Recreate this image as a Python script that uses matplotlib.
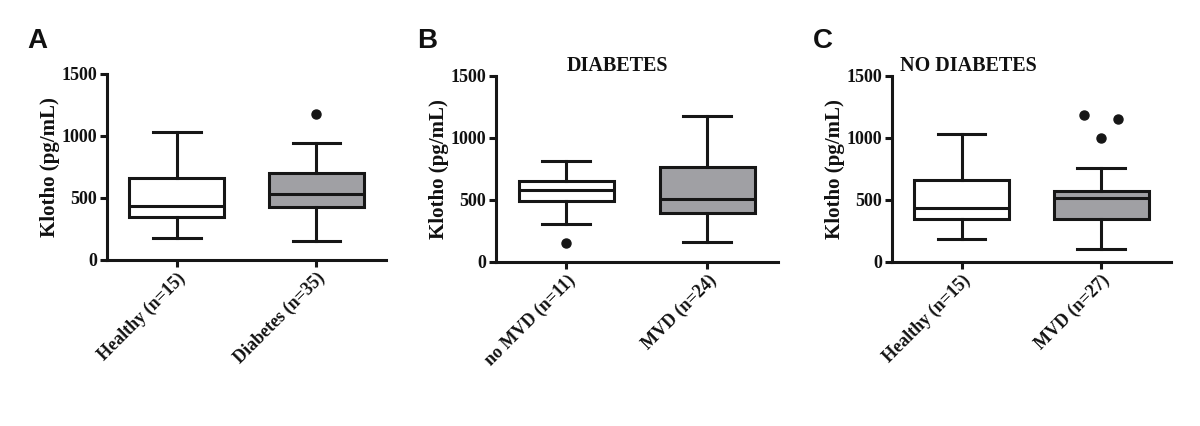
import matplotlib
matplotlib.use('Agg')
import matplotlib.pyplot as plt

# box stats (pg/mL)
PANEL_LETTERS = ['A', 'B', 'C']
PANEL_TITLES = ['', 'DIABETES', 'NO DIABETES']
GROUP_LABELS = [
    ['Healthy (n=15)', 'Diabetes (n=35)'],
    ['no MVD (n=11)', 'MVD (n=24)'],
    ['Healthy (n=15)', 'MVD (n=27)'],
]
WHISKER_LOW = [[180, 153], [307, 157], [181, 100]]
Q1 = [[344, 430], [493, 391], [342, 342]]
MEDIAN = [[433, 530], [579, 509], [434, 515]]
Q3 = [[659, 702], [652, 767], [660, 569]]
WHISKER_HIGH = [[1032, 941], [813, 1180], [1034, 759]]
OUTLIERS = [[[], [1180]], [[149], []], [[], [1185, 1153, 999]]]
OUTLIER_OFFSET = [[[], [0.0]], [[0.0], []], [[], [-0.12, 0.12, 0.0]]]
BOX_COLORS = ['white', '#a0a0a4']

Y_TICKS = [0, 500, 1000, 1500]

LINE_COLOR = '#161616'
TEXT_COLOR = '#111111'
SERIF = 'Liberation Serif'
SANS = 'Liberation Sans'

# axes rectangles in figure fraction, taken from the reference layout
AX_RECTS = [
    (0.0892, 0.3897, 0.2325, 0.4366),
    (0.4133, 0.3857, 0.2350, 0.4359),
    (0.7433, 0.3857, 0.2325, 0.4359),
]
TITLE_X = [0.5, 0.43, 0.275]
LETTER_POS = [(0.023, 0.935), (0.348, 0.935), (0.677, 0.935)]


def make_stats(i):
    stats = []
    for j in range(2):
        stats.append({
            'whislo': WHISKER_LOW[i][j],
            'q1': Q1[i][j],
            'med': MEDIAN[i][j],
            'q3': Q3[i][j],
            'whishi': WHISKER_HIGH[i][j],
            'fliers': [],
        })
    return stats


def main():
    fig = plt.figure(figsize=(12, 4.26), dpi=100)
    lw = 2.2

    for i in range(3):
        ax = fig.add_axes(AX_RECTS[i])
        positions = [1, 2]
        bp = ax.bxp(make_stats(i), positions=positions, widths=0.68,
                    patch_artist=True, showfliers=False,
                    boxprops=dict(linewidth=lw, edgecolor=LINE_COLOR),
                    whiskerprops=dict(linewidth=lw, color=LINE_COLOR),
                    capprops=dict(linewidth=lw, color=LINE_COLOR),
                    medianprops=dict(linewidth=lw, color=LINE_COLOR))
        for patch, c in zip(bp['boxes'], BOX_COLORS):
            patch.set_facecolor(c)

        for j, pos in enumerate(positions):
            xs = [pos + off for off in OUTLIER_OFFSET[i][j]]
            if xs:
                ax.plot(xs, OUTLIERS[i][j], 'o', color=LINE_COLOR,
                        markersize=6.5, clip_on=False)

        ax.set_xlim(0.5, 2.5)
        ax.set_ylim(0, 1500)
        ax.set_yticks(Y_TICKS)
        ax.set_xticks(positions)
        ax.set_xticklabels(GROUP_LABELS[i], rotation=45, ha='right',
                           rotation_mode='anchor', fontfamily=SERIF,
                           fontweight='bold', fontsize=13, color=TEXT_COLOR)
        for lab in ax.get_yticklabels():
            lab.set_fontfamily(SERIF)
            lab.set_fontweight('bold')
            lab.set_fontsize(13)
            lab.set_color(TEXT_COLOR)

        ax.spines['top'].set_visible(False)
        ax.spines['right'].set_visible(False)
        for side in ['left', 'bottom']:
            ax.spines[side].set_linewidth(lw)
            ax.spines[side].set_color(LINE_COLOR)
        ax.tick_params(direction='out', length=5, width=lw,
                       color=LINE_COLOR, pad=2)

        ax.set_ylabel('Klotho (pg/mL)', fontfamily=SERIF, fontweight='bold',
                      fontsize=15, color=TEXT_COLOR, labelpad=1)
        if PANEL_TITLES[i]:
            ax.text(TITLE_X[i], 1.0, PANEL_TITLES[i], transform=ax.transAxes,
                    ha='center', va='bottom', fontfamily=SERIF,
                    fontweight='bold', fontsize=14.5, color=TEXT_COLOR)

        lx, ly = LETTER_POS[i]
        fig.text(lx, ly, PANEL_LETTERS[i], fontfamily=SANS,
                 fontweight='bold', fontsize=20, color=TEXT_COLOR,
                 ha='left', va='top')

    fig.savefig('out.png', dpi=100, facecolor='white')
    plt.close(fig)


if __name__ == '__main__':
    main()
